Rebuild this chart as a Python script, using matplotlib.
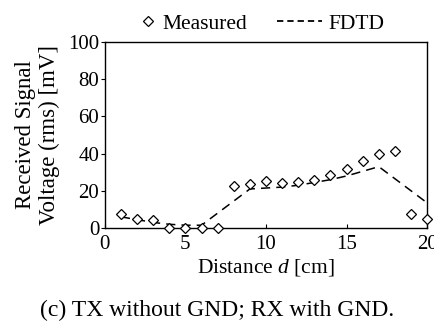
import matplotlib
matplotlib.use("Agg")
import matplotlib.pyplot as plt
from matplotlib.lines import Line2D

distance = list(range(1, 21))
measured = [7.3, 4.8, 4.1, 0.0, 0.0, 0.0, 0.0, 22.6, 23.7, 25.1, 24.4, 24.7, 26.0, 28.7, 31.7, 35.8, 39.6, 41.6, 7.3, 4.8]
fdtd = [6.0, 4.5, 3.0, 2.0, 1.5, 1.5, 8.0, 14.5, 21.0, 21.5, 22.0, 23.0, 24.5, 26.0, 28.0, 30.5, 33.0, 26.5, 20.0, 13.5]
xticks = [0, 5, 10, 15, 20]
yticks = [0, 20, 40, 60, 80, 100]

plt.rcParams['font.family'] = ['Liberation Serif', 'DejaVu Serif']
plt.rcParams['mathtext.fontset'] = 'custom'
plt.rcParams['mathtext.it'] = 'Liberation Serif:italic'
plt.rcParams['mathtext.rm'] = 'Liberation Serif'

fig = plt.figure(figsize=(4.35, 3.29), dpi=100)
ax = fig.add_axes([0.241, 0.307, 0.741, 0.565])

mk, = ax.plot(distance, measured, linestyle='none', marker='D', markersize=5.5,
              markerfacecolor='white', markeredgecolor='black', markeredgewidth=0.9,
              label='Measured', zorder=3, clip_on=False)
ln, = ax.plot(distance, fdtd, linestyle=(0, (6, 4)), color='black', linewidth=1.1,
              label='FDTD', zorder=2)

ax.set_xlim(0, 20)
ax.set_ylim(0, 100)
ax.set_xticks(xticks)
ax.set_yticks(yticks)
ax.tick_params(axis='x', direction='in', length=3, labelsize=15, pad=5)
ax.tick_params(axis='y', direction='out', length=3, labelsize=15, pad=1)
for s in ax.spines.values():
    s.set_linewidth(1.0)

ax.set_xlabel('Distance $d$ [cm]', fontsize=15.5, labelpad=2)
ax.set_ylabel('Received Signal\nVoltage (rms) [mV]', fontsize=16.5, labelpad=6, linespacing=1.15)

leg1 = ax.legend(handles=[mk], loc='lower center', bbox_to_anchor=(0.272, 1.0), frameon=False,
                 fontsize=15.5, handlelength=0.9, handletextpad=0.2, borderaxespad=0.0)
ax.add_artist(leg1)
dash_handle = Line2D([], [], color='black', linewidth=1.3, linestyle=(0, (3.5, 2.2)))
leg2 = ax.legend(handles=[dash_handle], labels=['FDTD'], loc='lower center',
                 bbox_to_anchor=(0.70, 1.0), frameon=False,
                 fontsize=15.5, handlelength=2.1, handletextpad=0.3, borderaxespad=0.0)

fig.text(0.5, 0.025, '(c) TX without GND; RX with GND.', ha='center', va='bottom', fontsize=17)

fig.savefig('out.png', dpi=100)
